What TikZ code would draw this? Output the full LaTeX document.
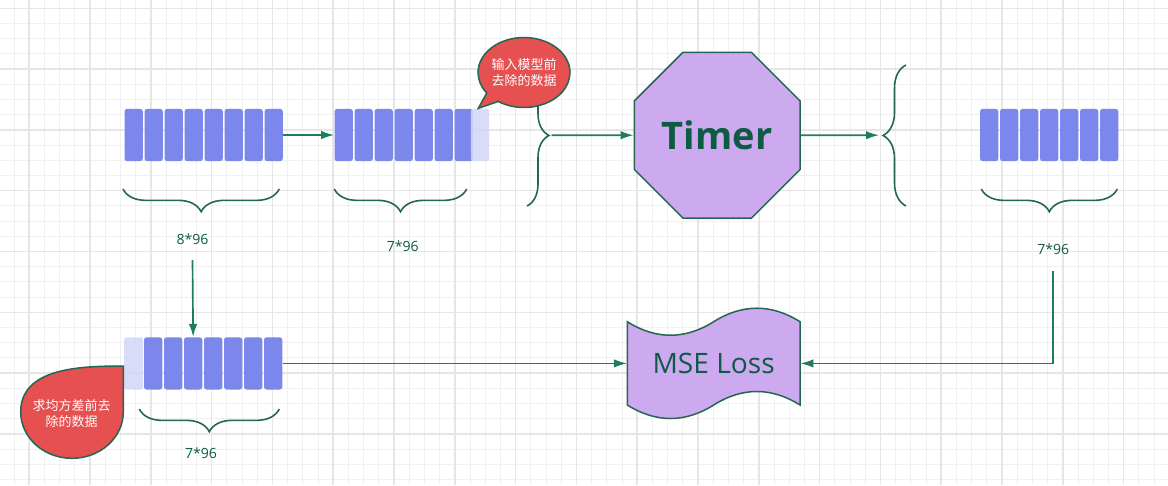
\documentclass[tikz,border=0pt]{standalone}
\usepackage{fontspec}
\setmainfont{Open Sans}
\newfontfamily\cjk{Noto Sans CJK SC}
\usepackage{tikz}
\usetikzlibrary{positioning,arrows.meta,shapes.geometric,shapes.callouts,decorations.pathreplacing}

\definecolor{cellc}{HTML}{7C87EC}
\definecolor{ghostc}{HTML}{D3D6F7}
\definecolor{linec}{HTML}{1F7D5E}
\definecolor{edgec}{HTML}{24664F}
\definecolor{txtc}{HTML}{0E5A43}
\definecolor{lilac}{HTML}{CDA9F0}
\definecolor{redc}{HTML}{E65050}
\definecolor{gridc}{HTML}{F0F0F0}
\definecolor{gridm}{HTML}{E6E6E6}

\begin{document}
\begin{tikzpicture}[x=0.02cm, y=-0.02cm, font=\fontsize{8}{10}\selectfont,
        cell/.style={fill=cellc, rounded corners=1.5pt, inner sep=0,
          minimum width=0.366cm, minimum height=1.046cm},
        ghost/.style={cell, fill=ghostc, fill opacity=0.85},
        conn/.style={draw=linec, line width=0.95pt, -{Latex[length=7.4pt,width=4.8pt]}},
        brc/.style={draw=edgec, line width=0.9pt, decorate,
          decoration={brace, amplitude=0.454cm}},
        brcd/.style={brc, decoration={mirror}},
        lbl/.style={text=txtc, inner sep=1pt},
        redcall/.style={fill=redc, draw=edgec, line width=0.85pt, text=white,
          align=center, font=\cjk\fontsize{7.4}{9}\selectfont},
        minorgrid/.style={draw=gridc, line width=0.55pt},
        majorgrid/.style={draw=gridm, line width=0.85pt}]
      % canvas and grid
      \useasboundingbox (0,0) rectangle (1168,485);
      \fill[white] (0,0) rectangle (1168,485);
      \foreach \gx in {0,...,76}
        \draw[minorgrid] (14+15.2*\gx,0) -- (14+15.2*\gx,485);
      \foreach \gy in {0,...,31}
        \draw[minorgrid] (0,8.3+15.2*\gy) -- (1168,8.3+15.2*\gy);
      \foreach \gx in {0,...,18}
        \draw[majorgrid] (29.2+60.8*\gx,0) -- (29.2+60.8*\gx,485);
      \foreach \gy in {0,...,7}
        \draw[majorgrid] (0,8.3+60.8*\gy) -- (1168,8.3+60.8*\gy);
      % data blocks
      \foreach \k in {1,...,8}
        \node[cell] (a\k) at (113.65+20*\k,135) {};
      \foreach \k in {1,...,7}
        \node[cell] (b\k) at (323.65+20*\k,135) {};
      \node[ghost] (bx) at (480,135) {};
      \foreach \k in {1,...,7}
        \node[cell] (c\k) at (969.15+20*\k,135) {};
      \foreach \k in {1,...,7}
        \node[cell] (d\k) at (133.15+20*\k,363.4) {};
      \node[ghost, minimum width=0.38cm] (dx) at (133.7,363.4) {};
      % braces
      \draw[brcd] (123,189) -- (279.3,189);
      \draw[brcd] (334.3,189) -- (466.7,189);
      \draw[brcd] (981.3,189) -- (1117.3,189);
      \draw[brcd] (139.3,409) -- (279.3,409);
      \draw[brc, decoration={amplitude=0.44cm}] (527,65) -- (527,206);
      \draw[brc, decoration={amplitude=0.46cm}] (906,206) -- (906,65);
      \coordinate (t1) at (551.5,135.2);
      \coordinate (t2) at (879,135.2);
      % labels
      \node[lbl] (l1) at (192.5,239.5) {8*96};
      \node[lbl] (l2) at (402.7,246.7) {7*96};
      \node[lbl] (l3) at (201,453.3) {7*96};
      \node[lbl] (l4) at (1053.3,249.3) {7*96};
      % model and loss
      \node[regular polygon, regular polygon sides=8, minimum size=3.587cm, inner sep=0,
        fill=lilac, draw=edgec, line width=0.85pt, text=txtc,
        font=\bfseries\fontsize{21.6}{24}\selectfont] (timer) at (717.2,135.2) {Timer};
      \draw[fill=lilac, draw=edgec, line width=0.85pt] (627.3,321.7)
        .. controls (656,339.7) and (685,339.7) .. (713.65,321.7)
        .. controls (742.3,303.7) and (771.3,303.7) .. (800,321.7) -- (800,405)
        .. controls (771.3,387) and (742.3,387) .. (713.65,405)
        .. controls (685,423) and (656,423) .. (627.3,405) -- cycle;
      \node[text=txtc, font=\fontsize{16}{18}\selectfont, minimum width=3.454cm,
        minimum height=1.666cm, inner sep=0] (mse) at (713.65,363.4) {MSE Loss};
      % connectors
      \draw[conn] (a8.east) -- (b1.west);
      \draw[conn] (t1) -- (timer.west);
      \draw[conn] (timer.east) -- (t2);
      \draw[conn] ([yshift=-7.4pt]l1.south) -- (d3.north);
      \draw[conn] (d7.east) -- (mse.west);
      \draw[conn] ([yshift=-8pt]l4.south) |- (mse.east);
      % callouts
      \node[redcall, ellipse callout, callout absolute pointer={(478.3,108.3)},
        callout pointer arc=20, minimum width=1.8cm, minimum height=1.4cm,
        inner sep=0] (note1) at (524,72.5) {输入模型前\\去除的数据};
      \draw[redcall] (123.3,366) to[out=180,in=90] (20.7,412)
        arc[start angle=180, end angle=0, x radius=51.3, y radius=46.3] -- cycle;
      \node[text=white, align=center, font=\cjk\fontsize{7.4}{9}\selectfont]
        (note2) at (71.7,413.7) {求均方差前去\\除的数据};
\end{tikzpicture}
\end{document}
